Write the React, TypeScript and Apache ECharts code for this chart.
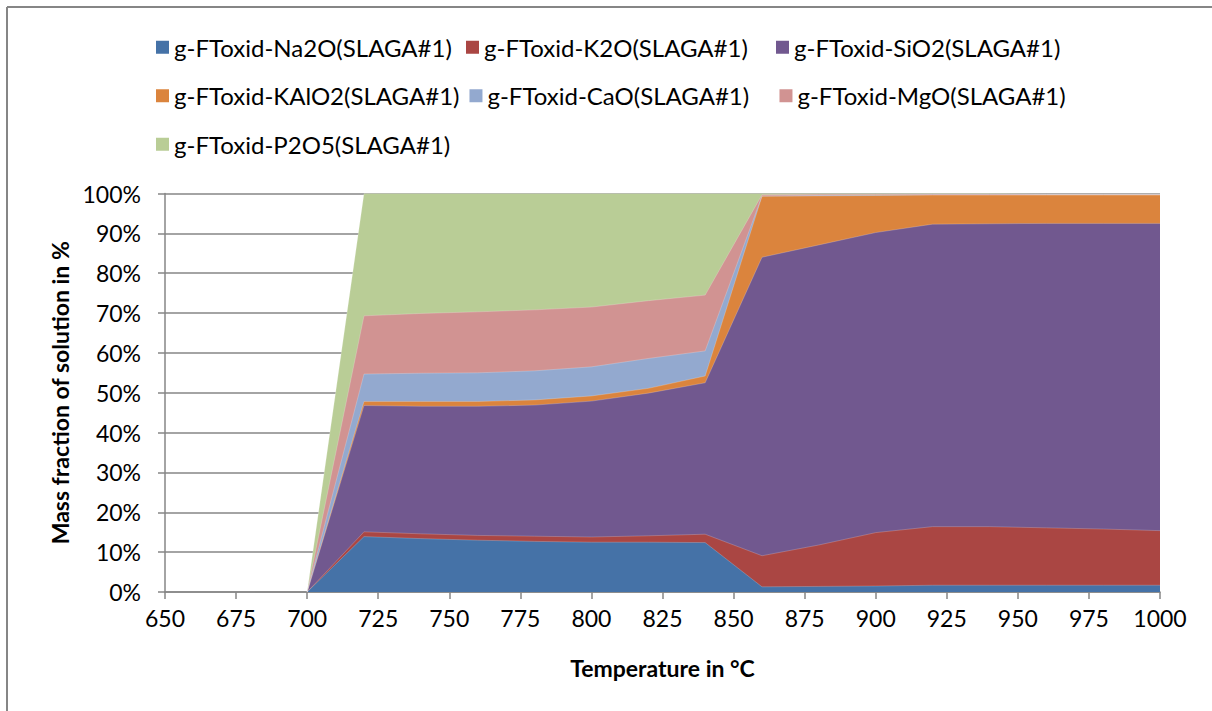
import React, { useEffect, useRef } from "react";
import * as echarts from "echarts";

const temperatures = [700, 720, 740, 760, 780, 800, 820, 840, 860, 880, 900, 920, 940, 960, 980, 1000];

const seriesNames = [
  "g-FToxid-Na2O(SLAGA#1)",
  "g-FToxid-K2O(SLAGA#1)",
  "g-FToxid-SiO2(SLAGA#1)",
  "g-FToxid-KAlO2(SLAGA#1)",
  "g-FToxid-CaO(SLAGA#1)",
  "g-FToxid-MgO(SLAGA#1)",
  "g-FToxid-P2O5(SLAGA#1)",
];

const na2o = [0, 13.9, 13.4, 13.0, 12.7, 12.5, 12.5, 12.4, 1.3, 1.4, 1.5, 1.7, 1.7, 1.7, 1.7, 1.7];
const k2o = [0, 1.2, 1.2, 1.2, 1.3, 1.3, 1.6, 2.1, 7.8, 10.4, 13.4, 14.7, 14.7, 14.4, 14.1, 13.7];
const sio2 = [0, 31.7, 32.0, 32.4, 32.9, 34.1, 35.8, 38.0, 74.9, 75.3, 75.3, 75.9, 76.0, 76.4, 76.7, 77.1];
const kalo2 = [0, 1.0, 1.2, 1.2, 1.3, 1.3, 1.2, 1.7, 15.3, 12.3, 9.3, 7.3, 7.2, 7.1, 7.1, 7.1];
const cao = [0, 6.9, 7.1, 7.2, 7.3, 7.3, 7.5, 6.3, 0.1, 0.1, 0.1, 0.1, 0.1, 0.1, 0.1, 0.1];
const mgo = [0, 14.6, 15.0, 15.3, 15.3, 15.0, 14.5, 14.0, 0.3, 0.3, 0.2, 0.2, 0.2, 0.1, 0.1, 0.1];
const p2o5 = [0, 30.7, 30.1, 29.7, 29.2, 28.5, 26.9, 25.5, 0.3, 0.2, 0.2, 0.1, 0.1, 0.1, 0.1, 0.1];

const seriesValues = [na2o, k2o, sio2, kalo2, cao, mgo, p2o5];

const colors = ["#4572A7", "#AA4643", "#71588F", "#DB843D", "#93A9CF", "#D19392", "#B9CD96"];

const FONT = "Lato";
const AXIS_GRAY = "#868686";

// Stacked (cumulative) tops, computed from the series values above.
function cumulativeTops(): number[][] {
  const tops: number[][] = [];
  seriesValues.forEach((vals, i) => {
    tops.push(vals.map((v, j) => +(v + (i > 0 ? tops[i - 1][j] : 0)).toFixed(3)));
  });
  return tops;
}

export default function App() {
  const ref = useRef<HTMLDivElement>(null);
  useEffect(() => {
    if (!ref.current) return;
    const chart = echarts.init(ref.current, undefined, { renderer: "svg" });
    const tops = cumulativeTops();
    // Draw from the top layer down so lower layers paint over upper ones.
    const order = seriesNames.map((_, i) => seriesNames.length - 1 - i);
    const option: any = {
      animation: false,
      backgroundColor: "#ffffff",
      textStyle: { fontFamily: FONT },
      legend: {
        data: seriesNames.map((n, i) => ({ name: n, itemStyle: { color: colors[i] } })),
        orient: "horizontal",
        left: 156,
        top: 28,
        width: 960,
        padding: 0,
        itemWidth: 13,
        itemHeight: 13,
        itemGap: 10,
        icon: "rect",
        selectedMode: false,
        textStyle: {
          fontFamily: FONT,
          fontSize: 24,
          color: "#000",
          width: 282,
          lineHeight: 38.5,
        },
      },
      grid: { left: 165, right: 52, top: 193.5, bottom: 119, containLabel: false },
      xAxis: {
        type: "value",
        min: 650,
        max: 1000,
        interval: 25,
        name: "Temperature in °C",
        nameLocation: "middle",
        nameGap: 64,
        nameTextStyle: { fontFamily: FONT, fontSize: 23, fontWeight: "bold", color: "#000" },
        axisLine: { lineStyle: { color: AXIS_GRAY, width: 1.5 } },
        axisTick: { show: true, length: 7, lineStyle: { color: AXIS_GRAY, width: 1.5 } },
        axisLabel: {
          fontFamily: FONT,
          fontSize: 23,
          color: "#000",
          margin: 14,
          formatter: (v: number) => String(v),
        },
        splitLine: { show: false },
      },
      yAxis: {
        type: "value",
        min: 0,
        max: 100,
        interval: 10,
        name: "Mass fraction of solution in %",
        nameLocation: "middle",
        nameGap: 94,
        nameRotate: 90,
        nameTextStyle: { fontFamily: FONT, fontSize: 23, fontWeight: "bold", color: "#000" },
        axisLine: { show: true, lineStyle: { color: AXIS_GRAY, width: 1.5 } },
        axisTick: { show: true, length: 7, lineStyle: { color: AXIS_GRAY, width: 1.5 } },
        axisLabel: { fontFamily: FONT, fontSize: 23, color: "#000", margin: 24, formatter: "{value}%" },
        splitLine: { show: true, lineStyle: { color: AXIS_GRAY, width: 1.5 } },
      },
      graphic: [
        {
          type: "line",
          shape: { x1: 7, y1: 7, x2: 1212, y2: 7 },
          style: { stroke: AXIS_GRAY, lineWidth: 2 },
          silent: true,
        },
        {
          type: "line",
          shape: { x1: 7, y1: 7, x2: 7, y2: 711 },
          style: { stroke: AXIS_GRAY, lineWidth: 2 },
          silent: true,
        },
      ],
      series: order.map((i) => ({
        name: seriesNames[i],
        type: "line",
        symbol: "none",
        showSymbol: false,
        lineStyle: { width: 0.6, color: "rgba(255,255,255,0.35)" },
        areaStyle: { color: colors[i], opacity: 1, origin: "start" },
        itemStyle: { color: colors[i] },
        data: temperatures.map((t, j) => [t, tops[i][j]]),
      })),
    };
    chart.setOption(option);
    return () => chart.dispose();
  }, []);
  return (
    <div
      ref={ref}
      style={{ position: "absolute", left: 0, top: 0, width: 1212, height: 711, background: "#fff" }}
    />
  );
}
